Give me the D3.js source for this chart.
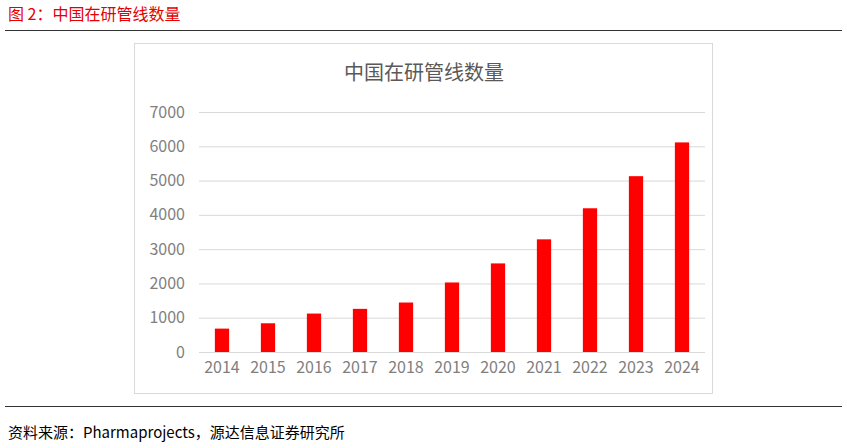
<!DOCTYPE html>
<html><head><meta charset="utf-8">
<script src="https://cdn.jsdelivr.net/npm/d3@7"></script>
<style>body{margin:0;background:#fff;font-family:"Noto Sans CJK SC","Noto Sans",sans-serif;}</style>
</head><body><svg id="c" width="847" height="448"></svg>
<script>
const years = ['2014','2015','2016','2017','2018','2019','2020','2021','2022','2023','2024'];
const counts = [682, 838, 1121, 1258, 1443, 2028, 2584, 3286, 4192, 5128, 6113];
const yTicks = [0, 1000, 2000, 3000, 4000, 5000, 6000, 7000];

const svg = d3.select('#c');
const font = '"Noto Sans CJK SC", sans-serif';

// header and footer
svg.append('text').attr('x', 8).attr('y', 20).attr('fill', '#e60000')
  .style('font-family', font).style('font-size', '16px').text('图 2：中国在研管线数量');
svg.append('line').attr('x1', 5).attr('x2', 842).attr('y1', 30.5).attr('y2', 30.5).attr('stroke', '#333');
svg.append('line').attr('x1', 5).attr('x2', 842).attr('y1', 406.5).attr('y2', 406.5).attr('stroke', '#333');
svg.append('text').attr('x', 8).attr('y', 438).attr('fill', '#000')
  .style('font-family', font).style('font-size', '15px').text('资料来源：Pharmaprojects，源达信息证券研究所');

// chart frame
svg.append('rect').attr('x', 134.5).attr('y', 43.5).attr('width', 578).attr('height', 350)
  .attr('fill', '#fff').attr('stroke', '#d9d9d9');
svg.append('text').attr('x', 424).attr('y', 80).attr('text-anchor', 'middle').attr('fill', '#595959')
  .style('font-family', font).style('font-size', '20px').text('中国在研管线数量');

const x = d3.scaleBand().domain(years).range([199, 705]).paddingInner(0.69).paddingOuter(0.345);
const y = d3.scaleLinear().domain([0, 7000]).range([352, 112]);

const ya = svg.append('g').attr('transform', 'translate(199,0)')
  .call(d3.axisLeft(y).tickValues(yTicks).tickFormat(d3.format('d')).tickSize(-506).tickPadding(14));
ya.select('.domain').remove();
ya.selectAll('line').attr('stroke', '#d9d9d9');
ya.selectAll('text').attr('fill', '#7f7f7f').style('font-family', font).style('font-size', '16px');

const xa = svg.append('g').attr('transform', 'translate(0,352)')
  .call(d3.axisBottom(x).tickSize(0).tickPadding(10));
xa.select('.domain').remove();
xa.selectAll('text').attr('fill', '#7f7f7f').style('font-family', font).style('font-size', '16px');

svg.selectAll('rect.bar').data(counts).enter().append('rect').attr('class', 'bar')
  .attr('x', (d, i) => x(years[i])).attr('width', x.bandwidth())
  .attr('y', d => y(d)).attr('height', d => y(0) - y(d)).attr('fill', '#ff0000');
</script></body></html>
